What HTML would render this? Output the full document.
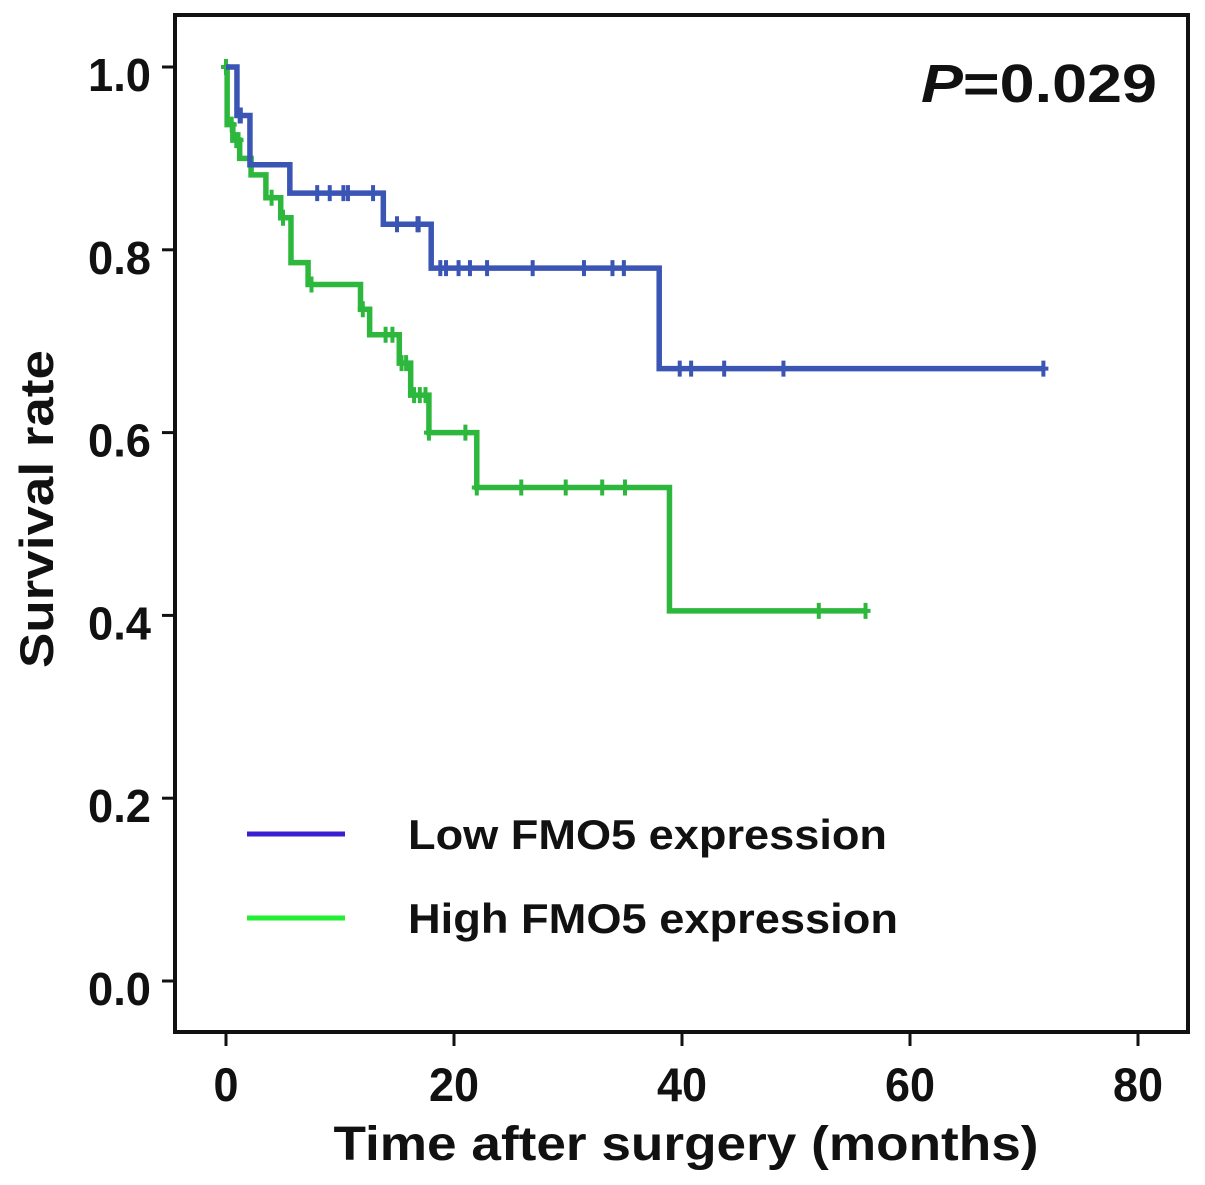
<!DOCTYPE html>
<html><head><meta charset="utf-8"><style>
html,body{margin:0;padding:0;background:#fff;}
svg{display:block;font-family:"Liberation Sans",sans-serif;font-weight:bold;}
</style></head><body>
<svg id="chart" width="1205" height="1185" viewBox="0 0 1205 1185" xmlns="http://www.w3.org/2000/svg">
<rect x="175" y="15" width="1013" height="1017" fill="none" stroke="#111" stroke-width="4"/>
<g id="axes"></g>
<g id="curves"></g>
<text x="1157" y="102" text-anchor="end" font-size="54" textLength="236" lengthAdjust="spacingAndGlyphs" fill="#111"><tspan font-style="italic">P</tspan>=0.029</text>
<line x1="247" y1="834" x2="345" y2="834" stroke="#3a1fd0" stroke-width="5"/>
<text x="408" y="849" font-size="42" textLength="479" lengthAdjust="spacingAndGlyphs" fill="#111">Low FMO5 expression</text>
<line x1="247" y1="918" x2="345" y2="918" stroke="#22ee33" stroke-width="5"/>
<text x="408" y="933" font-size="42" textLength="490" lengthAdjust="spacingAndGlyphs" fill="#111">High FMO5 expression</text>
<text x="686" y="1160" text-anchor="middle" font-size="48" textLength="705" lengthAdjust="spacingAndGlyphs" fill="#111">Time after surgery (months)</text>
<text transform="translate(53,509) rotate(-90)" text-anchor="middle" font-size="47" textLength="318" lengthAdjust="spacingAndGlyphs" fill="#111">Survival rate</text>
</svg>
<script>
const xTicks=[0,20,40,60,80];
const yTicks=[0,0.2,0.4,0.6,0.8,1.0];
const yTickLabels=["0.0","0.2","0.4","0.6","0.8","1.0"];
const lowTimes=[0,0.96,2.1,5.6,13.8,18,38,71.7];
const lowSurv=[1.0,0.947,0.893,0.862,0.828,0.78,0.67,0.67];
const lowCensT=[1.2,1.3,8,9.1,10.3,10.7,12.9,15,16.8,16.9,18.8,19.3,20.4,21.4,22.9,26.9,31.4,33.9,34.9,39.8,40.8,43.7,48.9,71.7];
const highTimes=[0,0.1,0.6,1.2,2.2,3.5,4.8,5.7,7.2,11.8,12.6,15.2,16.2,17.8,22,38.9,56.1];
const highSurv=[1.0,0.937,0.92,0.9,0.882,0.857,0.835,0.786,0.762,0.735,0.707,0.676,0.641,0.6,0.54,0.405,0.405];
const highCensT=[0,0.5,0.9,1.1,4,5,7.5,12,14,14.6,15.4,15.8,16.5,17,17.5,17.8,21,22,25.9,29.8,33,35,52,56.1];
function X(t){return 226+t*11.4;}
function Y(s){return 981-s*914;}
const NS="http://www.w3.org/2000/svg";
function mk(tag,attrs,parent){const e=document.createElementNS(NS,tag);for(const k in attrs)e.setAttribute(k,attrs[k]);parent.appendChild(e);return e;}
const axes=document.getElementById('axes');
xTicks.forEach(v=>{
  const l=mk('line',{x1:X(v),y1:1032,x2:X(v),y2:1046,stroke:'#111','stroke-width':3},axes);
  
  
  const s=String(v);
  const t=mk('text',{x:X(v),y:1101,'text-anchor':'middle','font-size':47,fill:'#111',textLength:s.length*25,lengthAdjust:'spacingAndGlyphs'},axes);
  t.textContent=s;
  
  
});
yTicks.forEach((v,i)=>{
  const l=mk('line',{x1:162,y1:Y(v),x2:175,y2:Y(v),stroke:'#111','stroke-width':3},axes);
  
  
  const t=mk('text',{x:151,y:Y(v)+24,'text-anchor':'end','font-size':46,fill:'#111',textLength:63,lengthAdjust:'spacingAndGlyphs'},axes);
  t.textContent=yTickLabels[i];
  
  
});
function survAt(times,surv,t){let s=surv[0];for(let i=0;i<times.length;i++){if(times[i]<=t)s=surv[i];}return s;}
const curves=document.getElementById('curves');
function drawCurve(times,surv,cens,color,name){
  let d='M'+X(times[0])+','+Y(surv[0]);
  for(let i=1;i<times.length;i++){d+=' H'+X(times[i])+' V'+Y(surv[i]);}
  const p=mk('path',{d:d,fill:'none',stroke:color,'stroke-width':5.5},curves);
  
  
  cens.forEach(t=>{
    const s=survAt(times,surv,t);
    const g=mk('path',{d:'M'+X(t)+','+(Y(s)-8)+' V'+(Y(s)+8)+' M'+(X(t)-5)+','+Y(s)+' H'+(X(t)+5),stroke:color,'stroke-width':4,fill:'none'},curves);
    
    
  });
}
drawCurve(highTimes,highSurv,highCensT,'#2db83d','high-fmo5');
drawCurve(lowTimes,lowSurv,lowCensT,'#3a55b4','low-fmo5');
</script>
</body></html>
